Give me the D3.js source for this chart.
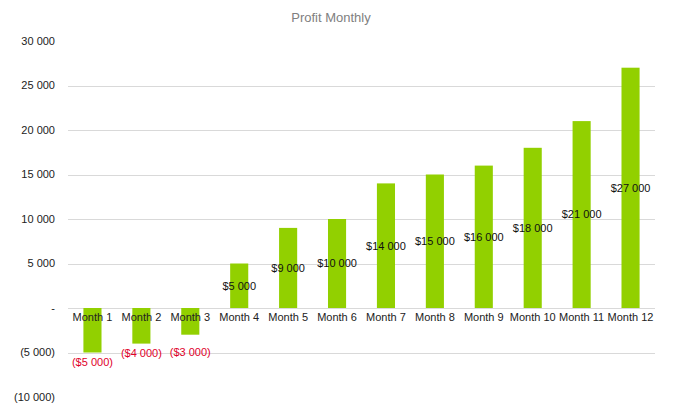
<!DOCTYPE html>
<html>
<head>
<meta charset="utf-8">
<script src="https://cdn.jsdelivr.net/npm/d3@7"></script>
<style>
  body { margin: 0; background: #fff; }
  svg { font-family: "Liberation Sans", Arial, sans-serif; }
</style>
</head>
<body>
<div id="chart"></div>
<script>
// 数据
const months = ['Month 1', 'Month 2', 'Month 3', 'Month 4', 'Month 5', 'Month 6',
    'Month 7', 'Month 8', 'Month 9', 'Month 10', 'Month 11', 'Month 12'];
const profit = [-5000, -4000, -3000, 5000, 9000, 10000, 14000, 15000, 16000, 18000, 21000, 27000];
const yTicks = [30000, 25000, 20000, 15000, 10000, 5000, 0, -5000, -10000];

const width = 681, height = 411;
const margin = {top: 41, right: 26, bottom: 14, left: 68};

const svg = d3.select('#chart').append('svg').attr('width', width).attr('height', height);

const x = d3.scaleBand().domain(months).range([margin.left, width - margin.right]).paddingInner(0.63).paddingOuter(0.315);
const y = d3.scaleLinear().domain([-10000, 30000]).range([height - margin.bottom, margin.top]);

const fmt = function (v) {
    return d3.format(',')(Math.abs(v)).replace(/,/g, ' ');
};

// 标题
svg.append('text').attr('x', 331).attr('y', 22).attr('text-anchor', 'middle')
    .attr('fill', '#808080').style('font-size', '13px').text('Profit Monthly');

// 网格线
svg.append('g').selectAll('line').data(yTicks.filter(function (t) { return t < 30000 && t > -10000; }))
    .enter().append('line')
    .attr('x1', margin.left).attr('x2', width - margin.right)
    .attr('y1', function (d) { return Math.round(y(d)) + 0.5; })
    .attr('y2', function (d) { return Math.round(y(d)) + 0.5; })
    .attr('stroke', '#d9d9d9').attr('stroke-width', 1);

// y轴标签
svg.append('g').selectAll('text').data(yTicks).enter().append('text')
    .attr('x', 55).attr('y', function (d) { return y(d); }).attr('dy', '0.35em')
    .attr('text-anchor', 'end').attr('fill', '#222').style('font-size', '11px')
    .text(function (d) {
        if (d === 0) return '-';
        return d < 0 ? '(' + fmt(d) + ')' : fmt(d);
    });

// 柱子
svg.append('g').selectAll('rect').data(profit).enter().append('rect')
    .attr('x', function (d, i) { return x(months[i]); })
    .attr('width', x.bandwidth())
    .attr('y', function (d) { return y(Math.max(0, d)); })
    .attr('height', function (d) { return Math.abs(y(d) - y(0)); })
    .attr('fill', '#92d000');

// 类别标签
svg.append('g').selectAll('text').data(months).enter().append('text')
    .attr('x', function (d) { return x(d) + x.bandwidth() / 2; })
    .attr('y', y(0) + 9).attr('dy', '0.35em')
    .attr('text-anchor', 'middle').attr('fill', '#222').style('font-size', '11px')
    .text(function (d) { return d; });

// 数值标签
svg.append('g').selectAll('text').data(profit).enter().append('text')
    .attr('x', function (d, i) { return x(months[i]) + x.bandwidth() / 2; })
    .attr('y', function (d) {
        if (d >= 0) return (y(d) + y(0)) / 2;
        return Math.max(y(d) + 10, y(-5000));
    })
    .attr('dy', '0.35em').attr('text-anchor', 'middle').style('font-size', '11px')
    .attr('fill', function (d) { return d < 0 ? '#e0002a' : '#111'; })
    .text(function (d) { return d < 0 ? '($' + fmt(d) + ')' : '$' + fmt(d); });
</script>
</body>
</html>
